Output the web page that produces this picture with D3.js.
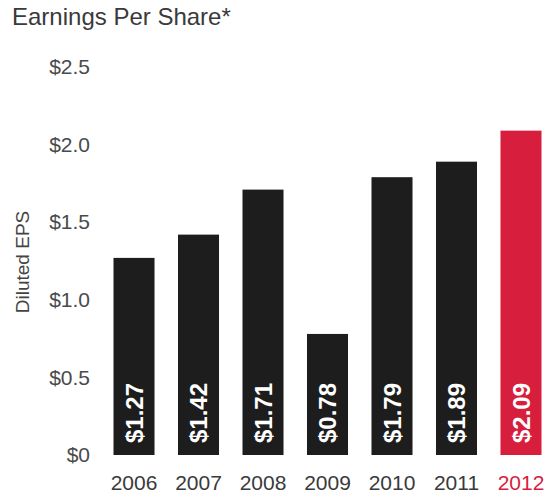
<!DOCTYPE html>
<html>
<head>
<meta charset="utf-8">
<script src="https://cdn.jsdelivr.net/npm/d3@7"></script>
<style>
  html, body { margin: 0; padding: 0; background: #fff; }
  svg { display: block; font-family: "Liberation Sans", Arial, Helvetica, sans-serif; }
</style>
</head>
<body>
<svg id="chart" width="548" height="497"></svg>
<script>
const years = ["2006", "2007", "2008", "2009", "2010", "2011", "2012"];
const eps = [1.27, 1.42, 1.71, 0.78, 1.79, 1.89, 2.09];
const valueLabels = ["$1.27", "$1.42", "$1.71", "$0.78", "$1.79", "$1.89", "$2.09"];
const yTicks = [0, 0.5, 1.0, 1.5, 2.0, 2.5];
const yTickLabels = ["$0", "$0.5", "$1.0", "$1.5", "$2.0", "$2.5"];
const highlightYear = "2012";

const black = "#1d1d1d";
const red = "#d81e3d";

const svg = d3.select("#chart");

const x = d3.scaleBand().domain(years).range([113.5, 541.5]).paddingInner(0.364).paddingOuter(0);
const y = d3.scaleLinear().domain([0, 2.5]).range([455, 67]);

// Title
svg.append("text").attr("x", 12).attr("y", 25)
  .attr("font-size", 24).attr("fill", "#3a3a3a").text("Earnings Per Share*");

// Y axis title
svg.append("text")
  .attr("transform", `translate(29,262) rotate(-90)`)
  .attr("text-anchor", "middle").attr("font-size", 19).attr("fill", "#444")
  .text("Diluted EPS");

// Y axis (labels only)
const yAxis = d3.axisLeft(y).tickValues(yTicks)
  .tickFormat((d, i) => yTickLabels[i]).tickSize(0).tickPadding(0);
const gy = svg.append("g").attr("transform", "translate(90,0)").call(yAxis);
gy.select(".domain").remove();
gy.selectAll("text").attr("font-size", 21).attr("fill", "#4a4a4a")
  .attr("font-family", "\"Liberation Sans\", Arial, sans-serif");

// X axis (labels only)
const xAxis = d3.axisBottom(x).tickSize(0).tickPadding(0);
const gx = svg.append("g").attr("transform", "translate(0,490)").call(xAxis);
gx.select(".domain").remove();
gx.selectAll("text").attr("dy", 0).attr("font-size", 21)
  .attr("font-family", "\"Liberation Sans\", Arial, sans-serif")
  .attr("fill", d => d === highlightYear ? red : "#3a3a3a");

// Bars
const data = years.map((yr, i) => ({ year: yr, v: eps[i], label: valueLabels[i] }));
svg.append("g").selectAll("rect").data(data).join("rect")
  .attr("x", d => x(d.year))
  .attr("y", d => y(d.v))
  .attr("width", x.bandwidth())
  .attr("height", d => y(0) - y(d.v))
  .attr("fill", d => d.year === highlightYear ? red : black);

// Value labels
svg.append("g").selectAll("text").data(data).join("text")
  .attr("transform", d => `translate(${x(d.year) + x.bandwidth() / 2},${y(0) - 12}) rotate(-90)`)
  .attr("dy", "0.36em")
  .attr("text-anchor", "start")
  .attr("font-size", 24).attr("font-weight", "bold").attr("fill", "#fff")
  .text(d => d.label);
</script>
</body>
</html>
